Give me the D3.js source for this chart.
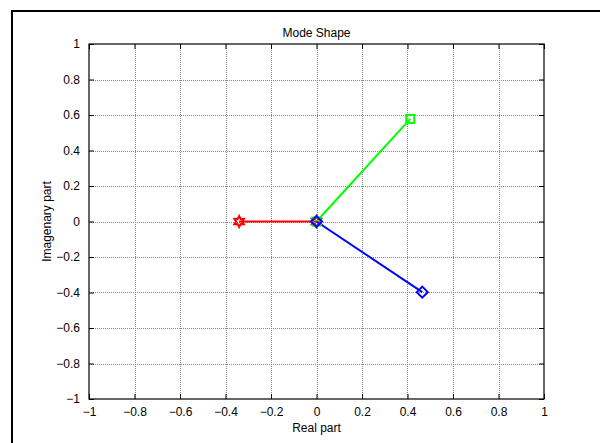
<!DOCTYPE html>
<html>
<head>
<meta charset="utf-8">
<script src="https://cdn.jsdelivr.net/npm/d3@7"></script>
<style>
  body { margin: 0; background: #fff; }
  text { font-family: "Liberation Sans", Arial, sans-serif; }
</style>
</head>
<body>
<script>
// mode shape vectors (real, imag) and marker per line
var modeNames = ["mode1", "mode2", "mode3"];
var realParts = [-0.34, 0.412, 0.465];
var imagParts = [0, 0.578, -0.398];
var lineColors = ["#ff0000", "#00ff00", "#0000ff"];
var markerTypes = ["star", "square", "diamond"];
var tickValues = [-1, -0.8, -0.6, -0.4, -0.2, 0, 0.2, 0.4, 0.6, 0.8, 1];

var w = 600, h = 443;
var plotLeft = 89, plotRight = 544, plotTop = 44, plotBottom = 399;

var svg = d3.select("body").append("svg")
    .attr("width", w)
    .attr("height", h);

// figure frame (partly outside the window)
svg.append("rect")
    .attr("x", 12).attr("y", 11)
    .attr("width", 700).attr("height", 600)
    .attr("fill", "none")
    .attr("stroke", "#000")
    .attr("stroke-width", 2);

var x = d3.scaleLinear().domain([-1, 1]).range([plotLeft, plotRight]);
var y = d3.scaleLinear().domain([-1, 1]).range([plotBottom, plotTop]);

// grid
var grid = svg.append("g").attr("stroke", "#888").attr("stroke-dasharray", "1,1");
grid.selectAll(".gx").data(tickValues.slice(1, -1)).enter().append("line")
    .attr("x1", d => Math.round(x(d)) + 0.5).attr("x2", d => Math.round(x(d)) + 0.5)
    .attr("y1", plotTop).attr("y2", plotBottom);
grid.selectAll(".gy").data(tickValues.slice(1, -1)).enter().append("line")
    .attr("y1", d => Math.round(y(d)) + 0.5).attr("y2", d => Math.round(y(d)) + 0.5)
    .attr("x1", plotLeft).attr("x2", plotRight);

// axes with inward ticks
var fmt = d => d3.format("")(d);
svg.append("g").attr("transform", "translate(0," + plotBottom + ")")
    .call(d3.axisBottom(x).tickValues(tickValues).tickSizeInner(-5).tickSizeOuter(0).tickPadding(8).tickFormat(fmt));
svg.append("g").attr("transform", "translate(0," + plotTop + ")")
    .call(d3.axisTop(x).tickValues(tickValues).tickSizeInner(-5).tickSizeOuter(0).tickFormat(""));
svg.append("g").attr("transform", "translate(" + plotLeft + ",0)")
    .call(d3.axisLeft(y).tickValues(tickValues).tickSizeInner(-5).tickSizeOuter(0).tickPadding(9).tickFormat(fmt));
svg.append("g").attr("transform", "translate(" + plotRight + ",0)")
    .call(d3.axisRight(y).tickValues(tickValues).tickSizeInner(-5).tickSizeOuter(0).tickFormat(""));

svg.selectAll(".domain").remove();
svg.selectAll(".tick line").attr("stroke", "#000");
svg.selectAll(".tick text").attr("font-size", 12).attr("fill", "#000")
    .style("font-family", "'Liberation Sans', Arial, sans-serif");

svg.append("rect")
    .attr("x", plotLeft).attr("y", plotTop)
    .attr("width", plotRight - plotLeft).attr("height", plotBottom - plotTop)
    .attr("fill", "none").attr("stroke", "#000").attr("stroke-width", 1.2);

// lines from origin
var lines = svg.append("g");
modeNames.forEach(function (m, i) {
    lines.append("line")
        .attr("x1", x(0)).attr("y1", y(0))
        .attr("x2", x(realParts[i])).attr("y2", y(imagParts[i]))
        .attr("stroke", lineColors[i]).attr("stroke-width", 2);
});

// markers at both ends
var hexagram = (function () {
    var pts = [];
    for (var k = 0; k < 12; k++) {
        var r = k % 2 === 0 ? 5.5 : 3;
        var a = -Math.PI / 2 + k * Math.PI / 6;
        pts.push([r * Math.cos(a), r * Math.sin(a)]);
    }
    return "M" + pts.map(p => p.join(",")).join("L") + "Z";
})();

function marker(g, type, color, cx, cy) {
    if (type === "star") {
        g.append("path").attr("d", hexagram).attr("transform", "translate(" + cx + "," + cy + ")")
            .attr("fill", "none").attr("stroke", color).attr("stroke-width", 2);
    } else if (type === "square") {
        g.append("rect").attr("x", cx - 4).attr("y", cy - 4).attr("width", 8).attr("height", 8)
            .attr("fill", "none").attr("stroke", color).attr("stroke-width", 2);
    } else {
        g.append("path").attr("d", "M0,-5.5L5.5,0L0,5.5L-5.5,0Z")
            .attr("transform", "translate(" + cx + "," + cy + ")")
            .attr("fill", "none").attr("stroke", color).attr("stroke-width", 2);
    }
}
var marks = svg.append("g");
modeNames.forEach(function (m, i) {
    marker(marks, markerTypes[i], lineColors[i], x(0), y(0));
});
modeNames.forEach(function (m, i) {
    marker(marks, markerTypes[i], lineColors[i], x(realParts[i]), y(imagParts[i]));
});

// labels
svg.append("text").attr("x", (plotLeft + plotRight) / 2).attr("y", 37)
    .attr("text-anchor", "middle").attr("font-size", 12).text("Mode Shape");
svg.append("text").attr("x", (plotLeft + plotRight) / 2).attr("y", 432)
    .attr("text-anchor", "middle").attr("font-size", 12).text("Real part");
svg.append("text").attr("transform", "translate(51," + (plotTop + plotBottom) / 2 + ") rotate(-90)")
    .attr("text-anchor", "middle").attr("font-size", 12).text("Imagenary part");
</script>
</body>
</html>
